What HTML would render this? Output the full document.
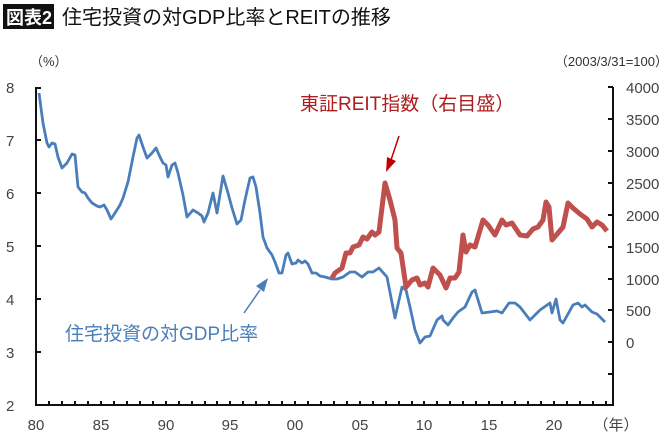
<!DOCTYPE html>
<html><head><meta charset="utf-8"><style>
body{margin:0;background:#fff;width:670px;height:438px;overflow:hidden}
svg{display:block;font-family:"Liberation Sans","Noto Sans CJK JP",sans-serif}
</style></head><body>
<svg width="670" height="438" viewBox="0 0 670 438">
<rect x="3" y="4" width="51" height="25" fill="#111"/>
<text x="6" y="24" font-size="18" fill="#fff" font-weight="bold">図表2</text>
<text x="62" y="24" font-size="20" fill="#111">住宅投資の対GDP比率とREITの推移</text>
<text x="30" y="66" font-size="13" fill="#333">（%）</text>
<text x="668" y="66" font-size="13" fill="#333" text-anchor="end">（2003/3/31=100）</text>
<g font-size="15" fill="#444">
<text x="6" y="93">8</text><text x="6" y="146">7</text><text x="6" y="199">6</text><text x="6" y="252">5</text><text x="6" y="305">4</text><text x="6" y="358">3</text><text x="6" y="411">2</text>
</g>
<g font-size="15" fill="#444">
<text x="626" y="93">4000</text><text x="626" y="125">3500</text><text x="626" y="157">3000</text><text x="626" y="189">2500</text><text x="626" y="221">2000</text><text x="626" y="253">1500</text><text x="626" y="285">1000</text><text x="626" y="316">500</text><text x="626" y="348">0</text>
</g>
<g font-size="15" fill="#444" text-anchor="middle">
<text x="36" y="430">80</text><text x="101" y="430">85</text><text x="166" y="430">90</text><text x="230" y="430">95</text><text x="295" y="430">00</text><text x="360" y="430">05</text><text x="424" y="430">10</text><text x="489" y="430">15</text><text x="554" y="430">20</text><text x="616" y="430">（年）</text>
</g>
<g stroke="#111" stroke-width="2" fill="none">
<path d="M36 87V405H613V87"/>
<path d="M36 88h5M36 140h5M36 193h5M36 246h5M36 299h5M36 352h5"/>
<path d="M613 87h-5M613 119h-5M613 151h-5M613 183h-5M613 215h-5M613 247h-5M613 279h-5M613 310h-5M613 342h-5M613 374h-5"/>
<path d="M49 405v-4M62 405v-4M75 405v-4M88 405v-4M101 405v-4M114 405v-4M127 405v-4M140 405v-4M153 405v-4M166 405v-4M179 405v-4M192 405v-4M205 405v-4M217 405v-4M230 405v-4M243 405v-4M256 405v-4M269 405v-4M282 405v-4M295 405v-4M308 405v-4M321 405v-4M334 405v-4M347 405v-4M360 405v-4M373 405v-4M386 405v-4M399 405v-4M412 405v-4M424 405v-4M437 405v-4M450 405v-4M463 405v-4M476 405v-4M489 405v-4M502 405v-4M515 405v-4M528 405v-4M541 405v-4M554 405v-4M567 405v-4M580 405v-4M593 405v-4M606 405v-4"/>
</g>
<polyline fill="none" stroke="#4a7ebb" stroke-width="2.8" stroke-linejoin="round" points="39,93 43,123 47,143 49,147 52,143 55,144 58,157 62,168 67,163 72,154 75,155 78,187 82,192 85,193 88,198 92,203 97,206 100,207 104,205 107,210 111,219 115,213 120,205 123,198 128,182 133,157 137,138 139,135 143,147 147,158 152,153 156,148 160,157 163,163 166,165 168,177 172,165 175,163 178,173 183,195 187,217 193,210 198,213 202,216 204,222 208,213 213,193 217,213 223,176 228,193 232,208 237,224 241,220 245,200 250,178 253,177 256,187 260,213 263,237 267,248 272,255 275,262 279,273 282,273 286,255 288,253 292,264 296,263 298,260 302,263 305,261 308,264 312,273 316,273 320,276 325,277 332,279 337,279 343,277 350,272 355,272 362,277 368,272 373,272 379,268 387,277 395,318 402,287 406,290 410,307 415,330 420,343 425,337 430,336 437,320 442,316 443,320 448,325 453,318 458,312 465,307 472,292 475,290 482,313 490,312 497,311 502,313 509,303 515,303 520,307 530,320 540,310 550,303 552,313 556,299 560,320 563,323 573,305 578,303 582,307 585,305 592,312 597,314 605,322"/>
<polyline fill="none" stroke="#c0504d" stroke-width="5" stroke-linejoin="round" points="332,278 335,273 342,268 346,253 350,253 353,247 359,245 363,237 367,239 372,232 375,235 379,232 385,183 390,200 395,220 397,248 401,253 406,287 412,280 417,278 420,285 425,283 428,287 433,268 440,275 446,288 450,278 455,278 459,272 463,235 466,252 470,245 475,247 483,220 488,225 495,235 502,220 506,225 512,223 520,235 527,236 533,229 538,227 543,220 546,202 549,207 552,240 558,233 563,227 568,203 573,208 580,214 587,219 592,227 597,222 602,225 607,231"/>
<line x1="399" y1="136" x2="391" y2="160" stroke="#c00000" stroke-width="1.5"/>
<polygon points="386,172 387,157 396,161" fill="#c00000"/>
<line x1="244" y1="313" x2="260" y2="290" stroke="#4a7ebb" stroke-width="1.5"/>
<polygon points="268,278 256,286 264,292" fill="#4a7ebb"/>
<text x="300" y="110" font-size="19" fill="#b01c1c">東証REIT指数（右目盛）</text>
<text x="65" y="340" font-size="19" fill="#4a7ebb">住宅投資の対GDP比率</text>
</svg>
</body></html>
